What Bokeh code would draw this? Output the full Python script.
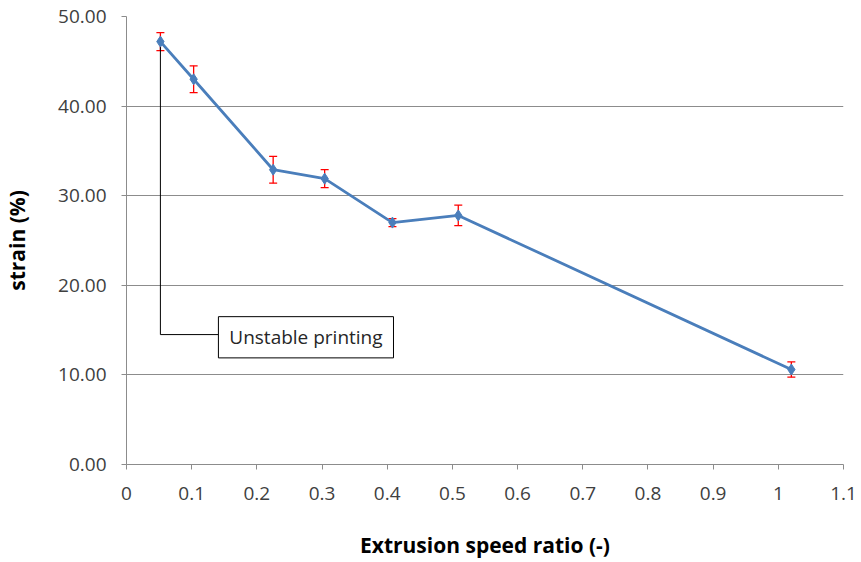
from bokeh.plotting import figure
from bokeh.models import Whisker, ColumnDataSource, FixedTicker, NumeralTickFormatter, TeeHead
from bokeh.embed import file_html
from bokeh.resources import INLINE
from bokeh.core.properties import value

# data
speed_ratio = [0.052, 0.103, 0.225, 0.304, 0.408, 0.509, 1.020]
strain = [47.2, 43.0, 32.9, 31.9, 27.0, 27.8, 10.6]
strain_err = [1.0, 1.5, 1.5, 1.0, 0.45, 1.15, 0.85]
x_ticks = [0, 0.1, 0.2, 0.3, 0.4, 0.5, 0.6, 0.7, 0.8, 0.9, 1.0, 1.1]
y_ticks = [0, 10, 20, 30, 40, 50]
x_title = "Extrusion speed ratio (-)"
y_title = "strain (%)"
note_text = "Unstable printing"
note_anchor = (0.052, 46.6)
note_elbow_y = 14.5
note_box = (0.141, 0.4096, 11.9, 16.5)  # left, right, bottom, top

FONT = "Open Sans"

p = figure(width=861, height=562, output_backend="svg", toolbar_location=None,
           x_range=(0, 1.1), y_range=(0, 50),
           min_border_left=126, min_border_right=18, min_border_top=16, min_border_bottom=98)
p.outline_line_color = None
p.background_fill_color = "white"
p.border_fill_color = "white"

p.xgrid.grid_line_color = None
p.ygrid.grid_line_color = "#8c8c8c"
p.ygrid.grid_line_width = 1
p.ygrid.ticker = FixedTicker(ticks=y_ticks)

p.xaxis.ticker = FixedTicker(ticks=x_ticks)
p.xaxis.major_label_overrides = {0: "0", 1.0: "1", 1.1: "1.1"}
p.yaxis.ticker = FixedTicker(ticks=y_ticks)
p.yaxis.formatter = NumeralTickFormatter(format="0.00")
for ax in (p.xaxis[0], p.yaxis[0]):
    ax.axis_line_color = "#8c8c8c"
    ax.major_tick_line_color = "#8c8c8c"
    ax.major_tick_out = 5
    ax.major_tick_in = 0
    ax.minor_tick_line_color = None
    ax.major_label_text_font = FONT
    ax.major_label_text_font_size = "19px"
    ax.major_label_text_color = "#404040"
    ax.axis_label_text_font = FONT
    ax.axis_label_text_font_size = "21px"
    ax.axis_label_text_font_style = "bold"
    ax.axis_label_text_color = "black"
p.xaxis.major_label_standoff = 17
p.yaxis.major_label_standoff = 15
p.xaxis.axis_label = x_title
p.yaxis.axis_label = y_title
p.xaxis.axis_label_standoff = 28
p.yaxis.axis_label_standoff = 24

src = ColumnDataSource(dict(
    x=speed_ratio, y=strain,
    lower=[s - e for s, e in zip(strain, strain_err)],
    upper=[s + e for s, e in zip(strain, strain_err)],
))

# callout
p.line([note_anchor[0], note_anchor[0], note_box[0]],
       [note_anchor[1], note_elbow_y, note_elbow_y], line_color="black", line_width=1)
p.quad(left=[note_box[0]], right=[note_box[1]], bottom=[note_box[2]], top=[note_box[3]],
       fill_color="white", line_color="black", line_width=1)
p.text(x=[(note_box[0] + note_box[1]) / 2], y=[(note_box[2] + note_box[3]) / 2], text=[note_text],
       text_font=value(FONT), text_font_size="19px", text_align="center", text_baseline="middle",
       text_color="#262626")

p.line("x", "y", source=src, line_color="#4a7ebb", line_width=2.8)
p.scatter("x", "y", source=src, marker="diamond", size=11, fill_color="#4a7ebb", line_color="#4a7ebb")

w = Whisker(base="x", lower="lower", upper="upper", source=src, line_color="red", line_width=1.3,
            upper_head=TeeHead(size=8, line_color="red", line_width=1.3),
            lower_head=TeeHead(size=8, line_color="red", line_width=1.3))
p.add_layout(w)

open("out.html", "w").write(file_html(p, INLINE))
